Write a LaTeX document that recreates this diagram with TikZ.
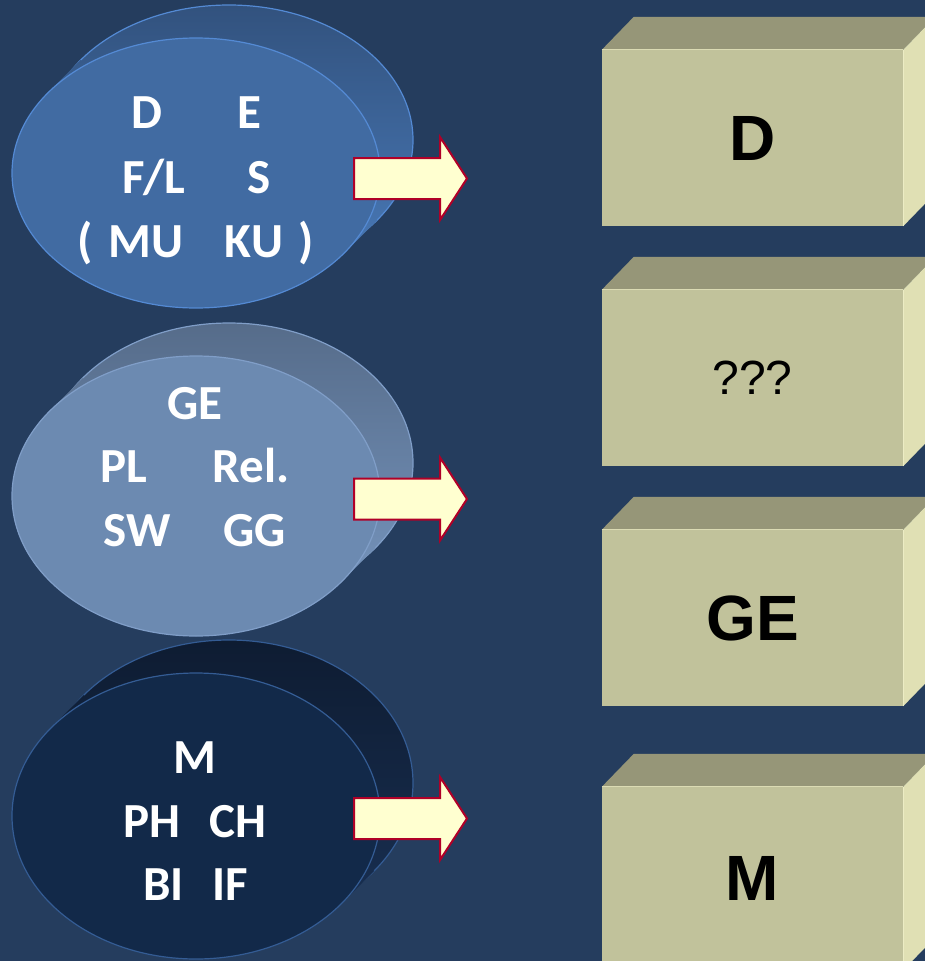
\documentclass[tikz,border=0pt]{standalone}
\usepackage{fontspec}
\newfontfamily\calib{Carlito}
\newfontfamily\arialf{Liberation Sans}
\usetikzlibrary{shapes.geometric,calc}
\definecolor{bgc}{RGB}{37,61,94}
\definecolor{aTop}{RGB}{50,82,126}
\definecolor{aBot}{RGB}{76,127,192}
\definecolor{aFront}{RGB}{65,107,162}
\definecolor{aEdge}{RGB}{84,138,212}
\definecolor{bTop}{RGB}{86,108,138}
\definecolor{bBot}{RGB}{122,154,196}
\definecolor{bFront}{RGB}{108,138,177}
\definecolor{bEdge}{RGB}{128,158,200}
\definecolor{cTop}{RGB}{14,28,50}
\definecolor{cBot}{RGB}{26,50,86}
\definecolor{cFront}{RGB}{18,41,73}
\definecolor{cEdge}{RGB}{52,92,148}
\definecolor{boxTopC}{RGB}{150,150,120}
\definecolor{boxFrontC}{RGB}{193,194,155}
\definecolor{boxRightC}{RGB}{224,224,180}
\definecolor{boxEdgeC}{RGB}{236,236,196}
\definecolor{arrFill}{RGB}{255,255,208}
\definecolor{arrLine}{RGB}{176,0,40}
\newcommand\mydisc[9]{%
  \begin{scope}
    \clip (229,#2-33) ellipse [x radius=184pt, y radius=#3pt];
    \shade[top color=#6, bottom color=#7] (40,#2-33-#3) rectangle (420,#2+#3);
  \end{scope}
  \draw[#9, line width=1.2pt] (229,#2-33) ellipse [x radius=184pt, y radius=#3pt];
  \begin{scope}
    \clip (196-#4,#2-#5) -- (229-#4,#2-33-#5) -- (229+#4,#2-33+#5) -- (196+#4,#2+#5) -- cycle;
    \shade[top color=#6, bottom color=#7] (40,#2-33-#3) rectangle (420,#2+#3);
  \end{scope}
  \node[ellipse, minimum width=368pt, minimum height=2*#3pt, inner sep=0pt,
        fill=#8, draw=#9, line width=1.2pt] (#1) at (196,#2) {};
}
\newcommand\myarrow[1]{%
  \draw[blockarrow] (354,#1-20.5) -- (440,#1-20.5) -- (440,#1-41.5) -- (467,#1)
    -- (440,#1+41.5) -- (440,#1+20.5) -- (354,#1+20.5) -- cycle;
}
\newcommand\myboxfaces[1]{%
  \fill[boxTopC] (#1.north west) -- ++(32,-33) -- ($(#1.north east)+(32,-33)$) -- (#1.north east) -- cycle;
  \fill[boxRightC] (#1.north east) -- ++(32,-33) -- ($(#1.south east)+(32,-33)$) -- (#1.south east) -- cycle;
  \draw[boxEdgeC, line width=1pt] (#1.north east) -- (#1.south east);
  \draw[boxEdgeC!60!boxFrontC, line width=0.8pt] (#1.north west) -- (#1.north east);
}
\begin{document}
\begin{tikzpicture}[x=1pt,y=-1pt,
  disctext/.style={text=white, anchor=base, inner sep=0pt,
    font=\calib\bfseries\fontsize{49}{54}\selectfont},
  boxfront/.style={rectangle, fill=boxFrontC, minimum width=301pt, inner sep=0pt,
    font=\arialf\bfseries\fontsize{64}{70}\selectfont},
  blockarrow/.style={fill=arrFill, draw=arrLine, line width=2pt, line join=miter}]
\useasboundingbox (0,0) rectangle (925,961);
\fill[bgc] (0,0) rectangle (925,961);

% discs
\mydisc{e1}{173}{135}{148.4}{79.9}{aTop}{aBot}{aFront}{aEdge}
\mydisc{e2}{496}{140}{146.4}{84.8}{bTop}{bBot}{bFront}{bEdge}
\mydisc{e3}{816}{143}{145.3}{87.8}{cTop}{cBot}{cFront}{cEdge}

% disc 1 texts
\node[disctext] (t1a) at (147,128) {D};
\node[disctext] (t1b) at (249,128) {E};
\node[disctext] (t1c) at (153.5,193) {F/L};
\node[disctext] (t1d) at (259.5,193) {S};
\node[disctext] (t1e) at (85,257) {(};
\node[disctext] (t1f) at (146,257) {MU};
\node[disctext] (t1g) at (254,257) {KU};
\node[disctext] (t1h) at (306,257) {)};
% disc 2 texts
\node[disctext] (t2a) at (195,419) {GE};
\node[disctext] (t2b) at (124,482) {PL};
\node[disctext] (t2c) at (251,482) {Rel.};
\node[disctext] (t2d) at (137,546) {SW};
\node[disctext] (t2e) at (255,546) {GG};
% disc 3 texts
\node[disctext] (t3a) at (195,773) {M};
\node[disctext] (t3b) at (152,837) {PH};
\node[disctext] (t3c) at (238,837) {CH};
\node[disctext] (t3d) at (163.5,900) {BI};
\node[disctext] (t3e) at (230.5,900) {IF};

% arrows
\myarrow{178.5}
\myarrow{499}
\myarrow{818.5}

% boxes
\node[boxfront, minimum height=176pt] (b1) at (752.5,138) {D};
\myboxfaces{b1}
\node[boxfront, minimum height=176pt, font=\arialf\fontsize{48}{54}\selectfont] (b2) at (752.5,378) {???};
\myboxfaces{b2}
\node[boxfront, minimum height=176pt] (b3) at (752.5,618) {GE};
\myboxfaces{b3}
\node[boxfront, minimum height=183pt] (b4) at (752.5,878.5) {M};
\myboxfaces{b4}
\end{tikzpicture}
\end{document}
